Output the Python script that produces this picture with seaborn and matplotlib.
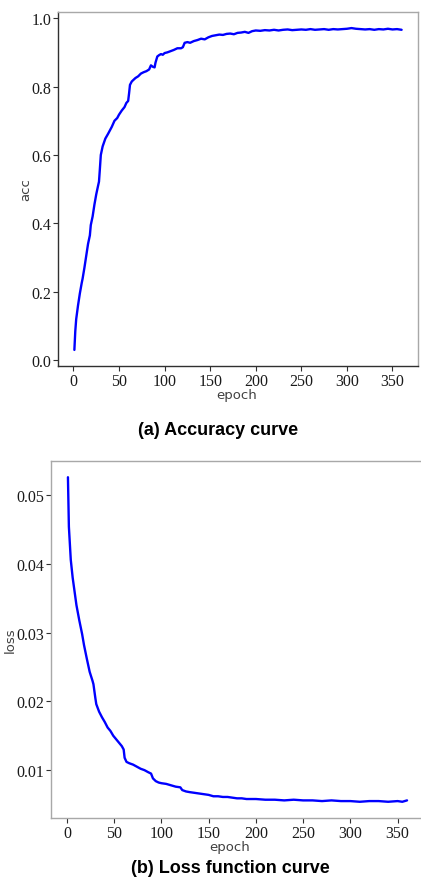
"""
Training curves: accuracy and loss over epochs (two stacked panels)
"""
import matplotlib
matplotlib.use('Agg')
import matplotlib.pyplot as plt
import seaborn as sns

# accuracy curve
acc_epoch = [1, 2, 3, 5, 7, 9, 10, 12, 14, 16, 18, 19, 21, 23, 25, 27, 28, 29, 30,
             32, 35, 38, 42, 45, 48, 50, 53, 56, 58, 60, 61, 62, 64, 66, 68, 71, 74,
             77, 80, 83, 85, 87, 89, 90, 92, 94, 96, 98, 100, 103, 106, 110, 114,
             118, 120, 122, 125, 128, 132, 136, 140, 144, 148, 152, 156, 160, 164,
             168, 172, 176, 180, 184, 188, 192, 196, 200, 205, 210, 215, 220, 225,
             230, 235, 240, 245, 250, 255, 260, 265, 270, 275, 280, 285, 290, 295,
             300, 305, 310, 315, 320, 325, 330, 335, 340, 345, 350, 355, 360]
acc_value = [0.030, 0.085, 0.120, 0.160, 0.195, 0.225, 0.238, 0.270, 0.305, 0.340,
             0.365, 0.395, 0.420, 0.455, 0.485, 0.510, 0.522, 0.560, 0.600, 0.625,
             0.648, 0.662, 0.682, 0.700, 0.708, 0.718, 0.730, 0.740, 0.752, 0.758,
             0.780, 0.805, 0.815, 0.820, 0.825, 0.830, 0.838, 0.842, 0.845, 0.850,
             0.862, 0.858, 0.856, 0.870, 0.888, 0.892, 0.895, 0.893, 0.898, 0.900,
             0.903, 0.907, 0.912, 0.912, 0.915, 0.928, 0.930, 0.928, 0.933, 0.936,
             0.940, 0.938, 0.944, 0.948, 0.950, 0.952, 0.951, 0.954, 0.955, 0.953,
             0.957, 0.958, 0.960, 0.957, 0.962, 0.964, 0.963, 0.965, 0.964, 0.966,
             0.964, 0.966, 0.967, 0.965, 0.966, 0.967, 0.966, 0.968, 0.966, 0.967,
             0.968, 0.966, 0.968, 0.967, 0.968, 0.969, 0.971, 0.969, 0.968, 0.967,
             0.968, 0.966, 0.968, 0.967, 0.969, 0.967, 0.968, 0.966]

# loss curve
loss_epoch = [1, 2, 4, 6, 8, 10, 13, 16, 18, 21, 24, 27, 28, 30, 31, 34, 37, 40, 43,
              46, 49, 52, 55, 58, 60, 61, 63, 66, 70, 74, 78, 82, 86, 89, 91, 94, 97,
              100, 105, 110, 115, 120, 122, 126, 130, 135, 140, 145, 150, 155, 160,
              165, 170, 175, 180, 185, 190, 200, 210, 220, 230, 240, 250, 260, 270,
              280, 290, 300, 310, 320, 330, 340, 350, 355, 360]
loss_value = [0.0526, 0.0454, 0.0406, 0.0380, 0.0360, 0.0340, 0.0318, 0.0298, 0.0282,
              0.0262, 0.0243, 0.0230, 0.0225, 0.0205, 0.0196, 0.0185, 0.0177, 0.0170,
              0.0162, 0.0157, 0.0150, 0.0145, 0.0140, 0.0135, 0.0130, 0.0118, 0.0112,
              0.0110, 0.0108, 0.0105, 0.0102, 0.0100, 0.0097, 0.0095, 0.0088, 0.0084,
              0.0082, 0.0081, 0.0080, 0.0078, 0.0076, 0.0075, 0.0071, 0.0069, 0.0068,
              0.0067, 0.0066, 0.0065, 0.0064, 0.0062, 0.0062, 0.0061, 0.0061, 0.0060,
              0.0059, 0.0059, 0.0058, 0.0058, 0.0057, 0.0057, 0.0056, 0.0057, 0.0056,
              0.0056, 0.0055, 0.0056, 0.0055, 0.0055, 0.0054, 0.0055, 0.0055, 0.0054,
              0.0055, 0.0054, 0.0056]

x_ticks = [0, 50, 100, 150, 200, 250, 300, 350]
acc_ticks = [0.0, 0.2, 0.4, 0.6, 0.8, 1.0]
loss_ticks = [0.01, 0.02, 0.03, 0.04, 0.05]

sns.set_theme(style="white")
plt.rcParams['font.family'] = ['Liberation Serif', 'DejaVu Serif']

fig = plt.figure(figsize=(4.21, 8.78), dpi=100)
ax_acc = fig.add_axes([0.1378, 0.582, 0.855, 0.4032])
ax_loss = fig.add_axes([0.1211, 0.0672, 0.886, 0.4066])


def style_axes(ax, dark_spines, light_spines):
    for s in dark_spines:
        ax.spines[s].set_color('#303030')
        ax.spines[s].set_linewidth(1.0)
    for s in light_spines:
        ax.spines[s].set_color('#a8a8a8')
        ax.spines[s].set_linewidth(1.0)
    ax.tick_params(axis='both', which='major', direction='out', length=3.5,
                   width=0.8, color='#303030', labelsize=11.5, labelcolor='#1a1a1a',
                   pad=1.5, bottom=True, left=True)


# (a) accuracy
sns.lineplot(x=acc_epoch, y=acc_value, ax=ax_acc, color='#0000ff', linewidth=1.7)
ax_acc.set_xticks(x_ticks)
ax_acc.set_yticks(acc_ticks)
ax_acc.set_yticklabels([f'{t:.1f}' for t in acc_ticks])
style_axes(ax_acc, ['left', 'bottom'], ['top', 'right'])
ax_acc.set_xlabel('epoch', family='DejaVu Sans', fontsize=9.5, color='#404040')
ax_acc.set_ylabel('acc', family='DejaVu Sans', fontsize=9.5, color='#404040')
ax_acc.xaxis.set_label_coords(0.497, -0.063)
ax_acc.yaxis.set_label_coords(-0.072, 0.5)

# (b) loss
sns.lineplot(x=loss_epoch, y=loss_value, ax=ax_loss, color='#0000ff', linewidth=1.7)
ax_loss.set_xticks(x_ticks)
ax_loss.set_yticks(loss_ticks)
ax_loss.set_yticklabels([f'{t:.2f}' for t in loss_ticks])
style_axes(ax_loss, [], ['left', 'bottom', 'top', 'right'])
ax_loss.set_xlabel('epoch', family='DejaVu Sans', fontsize=9.5, color='#404040')
ax_loss.set_ylabel('loss', family='DejaVu Sans', fontsize=9.5, color='#404040')
ax_loss.xaxis.set_label_coords(0.48, -0.063)
ax_loss.yaxis.set_label_coords(-0.092, 0.5)

# captions
fig.text(218 / 421, 443 / 878, '(a) Accuracy curve', family='Liberation Sans',
         fontweight='bold', fontsize=13, ha='center', va='baseline', color='black')
fig.text(230 / 421, 5 / 878, '(b) Loss function curve', family='Liberation Sans',
         fontweight='bold', fontsize=13, ha='center', va='baseline', color='black')

fig.savefig('out.png', dpi=100)
plt.close(fig)
